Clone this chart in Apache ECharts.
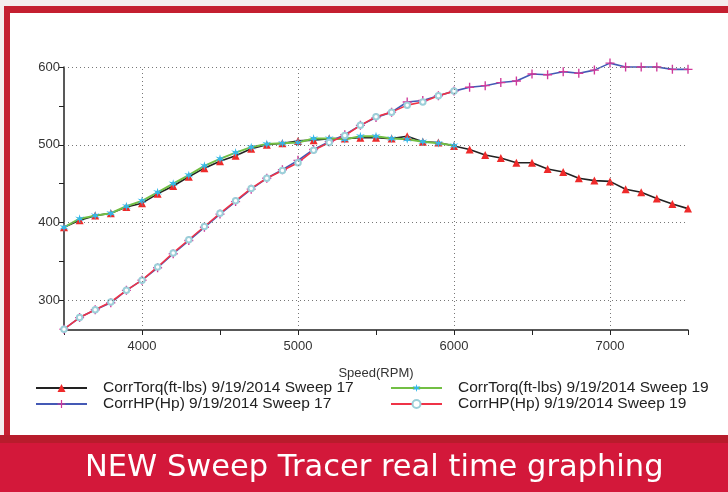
<!DOCTYPE html>
<html>
<head>
<meta charset="utf-8">
<script src="https://cdn.jsdelivr.net/npm/echarts@6/dist/echarts.min.js"></script>
<style>
  html, body { margin: 0; padding: 0; }
  body { width: 728px; height: 492px; position: relative; overflow: hidden; background: #f4eded; }
  .frame { position: absolute; left: 4px; top: 6px; right: 0; bottom: 0; background: #c41f30; }
  .paper { position: absolute; left: 10px; top: 13px; right: 0; height: 422px; background: #fff; }
  .seam { position: absolute; left: 0; top: 435px; right: 0; height: 8px; background: #b81c2c; }
  .banner { position: absolute; left: 0; top: 443px; right: 0; bottom: 0; background: #d3183a; }
  #chart { position: absolute; left: 0; top: 0; width: 728px; height: 492px; }
</style>
</head>
<body>
<div class="frame"></div>
<div class="paper"></div>
<div class="seam"></div>
<div class="banner"></div>
<div id="chart"></div>
<script>
// speed points (rpm)
const rpm17 = [3500, 3600, 3700, 3800, 3900, 4000, 4100, 4200, 4300, 4400, 4500,
  4600, 4700, 4800, 4900, 5000, 5100, 5200, 5300, 5400, 5500,
  5600, 5700, 5800, 5900, 6000, 6100, 6200, 6300, 6400, 6500,
  6600, 6700, 6800, 6900, 7000, 7100, 7200, 7300, 7400, 7500]
const rpm19 = [3500, 3600, 3700, 3800, 3900, 4000, 4100, 4200, 4300, 4400, 4500,
  4600, 4700, 4800, 4900, 5000, 5100, 5200, 5300, 5400, 5500,
  5600, 5700, 5800, 5900, 6000]

// sweep 17
const torq17 = [394, 403, 409, 412, 420, 425, 437, 447, 459, 470, 479,
  486, 495, 500, 502, 505, 506, 508, 508, 509, 509,
  508, 511, 504, 503, 498.5, 494, 487, 483, 477, 477,
  469, 465, 457, 454, 453, 443, 439, 431, 424, 418]
const hp17 = [263, 278, 288, 297, 313, 326, 342, 360, 377, 394, 411,
  427, 443, 457, 468, 480, 494, 504, 513, 525, 535,
  542, 555, 557, 563, 569, 574, 576, 580, 582, 591,
  590, 594, 592, 596, 605, 600, 600, 600, 597, 597]

// sweep 19
const torq19 = [394, 405, 409, 412, 421, 428, 439, 450, 461, 473, 482,
  490, 497, 501, 502, 503, 508, 508, 507, 511, 511,
  508, 507, 504, 502, 499]
const hp19 = [263, 278, 288, 298, 313, 326, 343, 361, 378, 395, 412,
  428, 444, 457, 467, 477, 493, 503, 512, 525, 536,
  542, 551, 555, 563, 569]

const seriesNames = [
  'CorrTorq(ft-lbs) 9/19/2014 Sweep 17',
  'CorrHP(Hp) 9/19/2014 Sweep 17',
  'CorrTorq(ft-lbs) 9/19/2014 Sweep 19',
  'CorrHP(Hp) 9/19/2014 Sweep 19'
]
const xGrid = [4000, 5000, 6000, 7000]
const yGrid = [300, 400, 500, 600]

const plusPath = 'path://M4.25,0 H5.75 V4.25 H10 V5.75 H5.75 V10 H4.25 V5.75 H0 V4.25 H4.25 Z'
const starPath = 'path://M5,0 L6,3.5 L10,2.5 L7,5 L10,7.5 L6,6.5 L5,10 L4,6.5 L0,7.5 L3,5 L0,2.5 L4,3.5 Z'

const zip = (xs, ys) => ys.map((v, i) => [xs[i], v])

function lineSeries(name, data, lineColor, symbol, symbolSize, markColor, extra) {
  return Object.assign({
    name,
    type: 'line',
    data,
    z: 3,
    clip: false,
    symbol,
    symbolSize,
    lineStyle: { color: lineColor, width: 1.6 },
    itemStyle: { color: markColor },
    emphasis: { disabled: true },
    animation: false
  }, extra || {})
}

const font = 'Liberation Sans, Arial, sans-serif'
const legendText = { color: '#222', fontSize: 15.5, lineHeight: 14, fontFamily: font, padding: [0, 0, 0, 11] }

function legendAt(left, names) {
  return {
    data: names,
    orient: 'vertical',
    left,
    top: 380,
    padding: 0,
    itemWidth: 51,
    itemHeight: 10,
    itemGap: 0,
    textStyle: legendText
  }
}

const option = {
  animation: false,
  title: {
    text: 'NEW Sweep Tracer real time graphing',
    left: 85,
    top: 453,
    padding: 0,
    textStyle: { color: '#fff', fontSize: 30.5, fontWeight: 'normal', fontFamily: 'DejaVu Sans' }
  },
  legend: [
    legendAt(35, [seriesNames[0], seriesNames[1]]),
    legendAt(390, [seriesNames[2], seriesNames[3]])
  ],
  grid: { left: 64, right: 40, top: 67, bottom: 162, containLabel: false },
  xAxis: {
    type: 'value',
    min: 3500,
    max: 7500,
    interval: 500,
    name: 'Speed(RPM)',
    nameLocation: 'middle',
    nameGap: 37,
    nameTextStyle: { color: '#333', fontSize: 13, fontFamily: font },
    axisLine: { lineStyle: { color: '#222', width: 1.5 } },
    axisTick: { length: 5, lineStyle: { color: '#222' } },
    axisLabel: {
      color: '#333', fontSize: 13, margin: 10, fontFamily: font,
      formatter: v => (v % 1000 === 0 ? String(v) : '')
    },
    splitLine: { show: false }
  },
  yAxis: {
    type: 'value',
    min: 262,
    max: 600,
    splitNumber: 7,
    axisLine: { show: true, lineStyle: { color: '#222', width: 1.5 } },
    axisTick: { show: true, length: 5, lineStyle: { color: '#222' } },
    axisLabel: {
      color: '#333', fontSize: 13, margin: 4, fontFamily: font,
      showMinLabel: false,
      formatter: v => (v % 100 === 0 ? String(v) : '')
    },
    splitLine: { show: false }
  },
  series: [
    {
      name: 'grid',
      type: 'line',
      data: [],
      z: 1,
      silent: true,
      markLine: {
        silent: true,
        symbol: 'none',
        label: { show: false },
        animation: false,
        lineStyle: { color: '#777', type: [1, 3], width: 1 },
        data: yGrid.map(v => ({ yAxis: v })).concat(xGrid.map(v => ({ xAxis: v })))
      }
    },
    lineSeries(seriesNames[0], zip(rpm17, torq17), '#222', 'triangle', 8, '#ee2a2a'),
    lineSeries(seriesNames[1], zip(rpm17, hp17), '#4459b5', plusPath, 9, '#d0389a'),
    lineSeries(seriesNames[2], zip(rpm19, torq19), '#72bf44', starPath, 9, '#33b8e8',
      { lineStyle: { color: '#72bf44', width: 2 } }),
    lineSeries(seriesNames[3], zip(rpm19, hp19), '#ef3347', 'emptyCircle', 5.5, '#9ccfd9',
      { itemStyle: { color: '#9ccfd9', borderWidth: 1.1 } })
  ]
}

const chart = echarts.init(document.getElementById('chart'), null, { renderer: 'canvas' })
chart.setOption(option)
</script>
</body>
</html>
